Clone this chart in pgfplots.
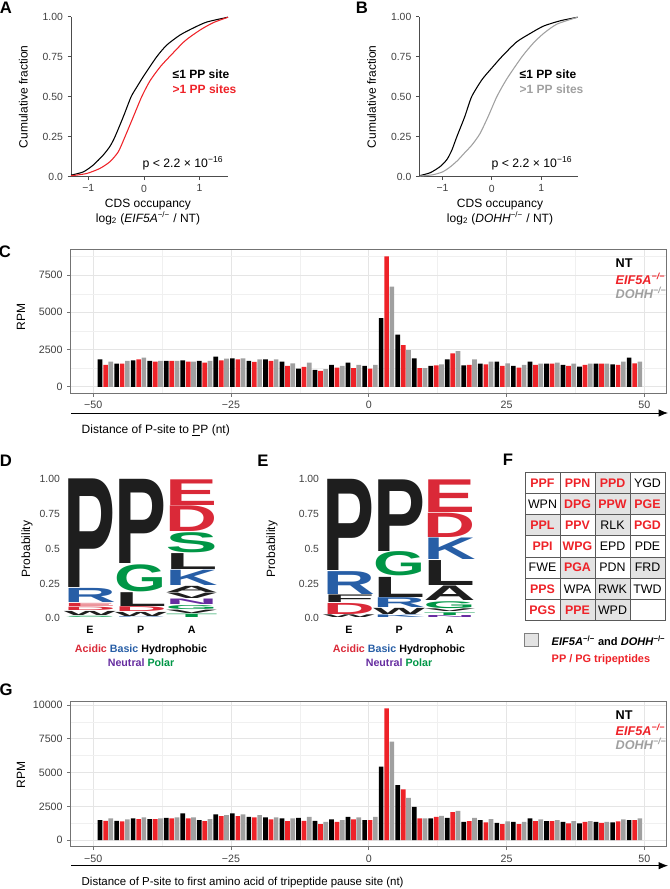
\documentclass[border=0pt]{standalone}
\usepackage{fontspec}
\setmainfont{Liberation Sans}
\usepackage{graphicx}
\usepackage{pgfplots}
\pgfplotsset{compat=1.18}
\usepackage{pgfplotstable}
\usetikzlibrary{arrows.meta}
\definecolor{lred}{RGB}{218,41,56}
\definecolor{lblue}{RGB}{39,94,166}
\definecolor{lgreen}{RGB}{0,150,70}
\definecolor{lpurple}{RGB}{102,45,160}
\definecolor{lblack}{RGB}{30,30,30}
\definecolor{myred}{RGB}{238,34,40}
\definecolor{mygray}{RGB}{160,160,160}
\newcommand{\fsz}[1]{\fontsize{#1}{#1}\selectfont}
\newcommand{\logoL}[5]{\node[anchor=south,inner sep=0pt,outer sep=0pt,text=#5,yshift=0.3pt] at (axis cs:#1,#2) {\pgfmathsetlengthmacro\hh{max((#3-#2)*104.5-0.6,0.25)}\resizebox*{39pt}{\hh}{\bfseries #4}};}

\pgfplotstableread{
pos nt ef do
-48 1842 1465 1686
-45 1553 1553 1731
-42 1775 1842 1953
-39 1731 1686 1731
-36 1731 1731 1731
-33 1775 1686 1686
-30 1731 1620 1731
-27 2019 1775 1886
-24 1908 1842 1908
-21 1731 1664 1842
-18 1842 1731 1842
-15 1686 1398 1575
-12 1220 1331 1620
-9 1132 1065 1176
-6 1465 1287 1398
-3 1620 1243 1465
0 1398 1220 1465
3 4615 8750 6724
6 3506 2796 2463
9 1908 1250 1250
12 1398 1442 1509
15 1842 2241 2397
18 1442 1465 1842
21 1553 1509 1686
24 1686 1398 1575
27 1398 1287 1465
30 1686 1465 1553
33 1553 1553 1620
36 1465 1398 1553
39 1354 1465 1553
42 1553 1553 1553
45 1509 1465 1686
48 1953 1575 1686
}\tabC

\pgfplotstableread{
pos nt ef do
-48 1481 1432 1605
-45 1432 1383 1531
-42 1605 1556 1679
-39 1556 1556 1605
-36 1654 1605 1679
-33 1975 1605 1679
-30 1481 1407 1556
-27 1901 1778 1852
-24 1975 1778 1901
-21 1728 1679 1852
-18 1679 1531 1679
-15 1605 1407 1605
-12 1654 1432 1728
-9 1432 1185 1358
-6 1531 1358 1481
-3 1728 1531 1679
0 1481 1481 1728
3 5432 9753 7284
6 4074 3753 3136
9 2469 1605 1605
12 1605 1728 1802
15 1654 2074 2173
18 1358 1407 1654
21 1481 1309 1556
24 1284 1185 1383
27 1358 1185 1358
30 1605 1407 1531
33 1407 1407 1481
36 1358 1235 1407
39 1235 1358 1407
42 1358 1284 1358
45 1309 1383 1531
48 1481 1481 1605
}\tabG

\pgfplotsset{
  cdfax/.style={anchor=south west, scale only axis, height=120pt, ymin=0, ymax=1,
    axis x line*=bottom, axis y line*=left,
    axis line style={black!70, line width=0.6pt},
    tick align=outside, major tick length=2.5pt, tick style={black!70, line width=0.6pt},
    xtick={-1,0,1}, xticklabels={−1,0,1},
    ytick={0,0.25,0.5,0.75,1}, yticklabels={0.0,0.25,0.50,0.75,1.00},
    ticklabel style={font=\fsz{7.8}, text=black!75}},
  barax/.style={anchor=south west, scale only axis, width=447.2pt,
    xmin=-54.1, xmax=54.1,
    xtick={-50,-25,0,25,50}, xticklabels={−50,−25,0,25,50},
    minor xtick={-37.5,-12.5,12.5,37.5},
    grid=both, major grid style={black!10, line width=0.5pt}, minor grid style={black!6, line width=0.3pt},
    axis line style={black!55, line width=0.7pt},
    tick align=outside, major tick length=2.5pt, minor tick length=0pt, tick style={black!55, line width=0.6pt},
    xtick pos=bottom, ytick pos=left, scaled y ticks=false,
    ticklabel style={font=\fsz{8}, text=black!75}},
  logoax/.style={anchor=south west, scale only axis, height=104.5pt,
    xmin=0.5, xmax=3.5, ymin=0, ymax=1, clip=false,
    axis line style={draw=none}, major tick length=0pt,
    xtick={1,2,3}, xticklabels={E,P,A},
    ytick={0,0.25,0.5,0.75,1}, yticklabels={0.0,0.25,0.5,0.75,1.00},
    xticklabel style={font=\bfseries\fsz{8}, yshift=-2pt},
    yticklabel style={font=\fsz{7.8}, text=black!75}},
}

\begin{document}
\begin{tikzpicture}
\useasboundingbox (0,0) rectangle (501.75pt,666.75pt);

% ---------- A ----------
\begin{axis}[cdfax, at={(53.25pt,534.2pt)}, width=117.75pt, xmin=-1.31, xmax=1.51]
\addplot[black, line width=0.8pt, smooth, tension=0.4] coordinates {(-1.31,0.01)(-1.09,0.03)(-0.91,0.073)(-0.73,0.136)(-0.61,0.19)(-0.52,0.25)(-0.37,0.375)(-0.23,0.5)(-0.12,0.565)(0,0.632)(0.23,0.75)(0.41,0.823)(0.65,0.886)(0.89,0.93)(1.13,0.967)(1.51,0.997)};
\addplot[myred, line width=0.8pt, smooth, tension=0.4] coordinates {(-1.31,0.006)(-1.03,0.02)(-0.79,0.052)(-0.61,0.094)(-0.46,0.156)(-0.34,0.25)(-0.19,0.375)(-0.04,0.5)(0.11,0.6)(0.3,0.69)(0.5,0.765)(0.74,0.85)(1.0,0.915)(1.24,0.962)(1.51,0.997)};
\end{axis}

% ---------- B ----------
\begin{axis}[cdfax, at={(314.5pt,534.2pt)}, width=118.8pt, xmin=-1.47, xmax=1.74]
\addplot[black, line width=0.8pt, smooth, tension=0.4] coordinates {(-1.47,0.006)(-1.25,0.025)(-1.05,0.063)(-0.91,0.108)(-0.81,0.167)(-0.71,0.25)(-0.55,0.375)(-0.41,0.5)(-0.2,0.607)(0,0.68)(0.2,0.75)(0.5,0.842)(0.78,0.896)(1.05,0.942)(1.39,0.975)(1.74,0.997)};
\addplot[mygray, line width=0.8pt, smooth, tension=0.4] coordinates {(-1.47,0.004)(-1.2,0.012)(-1.0,0.03)(-0.85,0.06)(-0.7,0.1)(-0.55,0.15)(-0.4,0.2)(-0.24,0.27)(-0.07,0.38)(0.1,0.5)(0.3,0.61)(0.61,0.75)(0.84,0.835)(1.05,0.896)(1.32,0.954)(1.74,0.997)};
\end{axis}

% ---------- C ----------
\begin{axis}[barax, at={(52.95pt,371.8pt)}, height=107.5pt, ymin=-437, ymax=9190,
  ytick={0,2500,5000,7500}, yticklabels={0,2500,5000,7500}, minor ytick={1250,3750,6250,8750}]
\addplot[ybar, bar width=0.85, bar shift=0pt, fill=black, draw=none] table[x expr=\thisrow{pos}-0.75, y=nt] {\tabC};
\addplot[ybar, bar width=0.85, bar shift=0pt, fill=myred, draw=none] table[x expr=\thisrow{pos}+0.25, y=ef] {\tabC};
\addplot[ybar, bar width=0.85, bar shift=0pt, fill=mygray, draw=none] table[x expr=\thisrow{pos}+1.2, y=do] {\tabC};
\end{axis}

% ---------- G ----------
\begin{axis}[barax, at={(52.95pt,31.7pt)}, height=108.75pt, ymin=-488, ymax=10244,
  ytick={0,2500,5000,7500,10000}, yticklabels={0,2500,5000,7500,10000}, minor ytick={1250,3750,6250,8750}]
\addplot[ybar, bar width=0.85, bar shift=0pt, fill=black, draw=none] table[x expr=\thisrow{pos}-0.75, y=nt] {\tabG};
\addplot[ybar, bar width=0.85, bar shift=0pt, fill=myred, draw=none] table[x expr=\thisrow{pos}+0.25, y=ef] {\tabG};
\addplot[ybar, bar width=0.85, bar shift=0pt, fill=mygray, draw=none] table[x expr=\thisrow{pos}+1.2, y=do] {\tabG};
\end{axis}

% ---------- D ----------
\begin{axis}[logoax, at={(48.4pt,203pt)}, width=114.4pt]
\addplot[draw=none] coordinates {(1,0)};
\logoL{1}{0}{0.015}{S}{lgreen}
\logoL{1}{0.015}{0.05}{W}{lblack}
\logoL{1}{0.05}{0.08}{D}{lred}
\logoL{1}{0.08}{0.108}{E}{lred}
\logoL{1}{0.108}{0.215}{R}{lblue}
\logoL{1}{0.215}{1}{P}{lblack}
\logoL{2}{0}{0.01}{R}{lblue}
\logoL{2}{0.01}{0.045}{W}{lblack}
\logoL{2}{0.045}{0.085}{D}{lred}
\logoL{2}{0.085}{0.19}{L}{lblack}
\logoL{2}{0.19}{0.39}{G}{lgreen}
\logoL{2}{0.39}{1}{P}{lblack}
\logoL{3}{0}{0.03}{T}{lgreen}
\logoL{3}{0.03}{0.06}{V}{lblack}
\logoL{3}{0.06}{0.095}{G}{lgreen}
\logoL{3}{0.095}{0.14}{N}{lpurple}
\logoL{3}{0.14}{0.185}{V}{lblack}
\logoL{3}{0.185}{0.235}{A}{lblack}
\logoL{3}{0.235}{0.35}{K}{lblue}
\logoL{3}{0.35}{0.47}{L}{lblack}
\logoL{3}{0.47}{0.62}{S}{lgreen}
\logoL{3}{0.62}{0.81}{D}{lred}
\logoL{3}{0.81}{1}{E}{lred}
\end{axis}

% ---------- E ----------
\begin{axis}[logoax, at={(242.8pt,203pt)}, width=113.2pt]
\addplot[draw=none] coordinates {(1,0)};
\logoL{1}{0}{0.025}{W}{lblack}
\logoL{1}{0.025}{0.11}{D}{lred}
\logoL{1}{0.11}{0.17}{F}{lblack}
\logoL{1}{0.17}{0.34}{R}{lblue}
\logoL{1}{0.34}{1}{P}{lblack}
\logoL{2}{0}{0.024}{K}{lblue}
\logoL{2}{0.024}{0.074}{W}{lblack}
\logoL{2}{0.074}{0.15}{R}{lblue}
\logoL{2}{0.15}{0.3}{L}{lblack}
\logoL{2}{0.3}{0.48}{G}{lgreen}
\logoL{2}{0.48}{1}{P}{lblack}
\logoL{3}{0}{0.02}{N}{lpurple}
\logoL{3}{0.02}{0.045}{T}{lgreen}
\logoL{3}{0.045}{0.07}{V}{lblack}
\logoL{3}{0.07}{0.125}{G}{lgreen}
\logoL{3}{0.125}{0.235}{A}{lblack}
\logoL{3}{0.235}{0.42}{L}{lblack}
\logoL{3}{0.42}{0.58}{K}{lblue}
\logoL{3}{0.58}{0.76}{D}{lred}
\logoL{3}{0.76}{1}{E}{lred}
\end{axis}

% ---------- text, in image pixel coordinates ----------
\begin{scope}[shift={(0pt,666.75pt)}, x=0.75pt, y=-0.75pt]
\tikzset{plab/.style={font=\bfseries\fsz{12.5}}}
\node[plab] at (6,8) {A};
\node[plab] at (362,8) {B};
\node[plab] at (5,252) {C};
\node[plab] at (6,461) {D};
\node[plab] at (263,461) {E};
\node[plab] at (508,460) {F};
\node[plab] at (6,690) {G};

% A
\node[rotate=90, font=\fsz{9}] at (23.3,96.7) {Cumulative fraction};
\node[font=\fsz{9}] at (148,205) {CDS occupancy};
\node[font=\fsz{9}] at (148,218.3) {log\textsubscript{2} (\textit{EIF5A}\textsuperscript{−/−} / NT)};
\node[anchor=west, font=\bfseries\fsz{9}] at (168,74) {≤1 PP site};
\node[anchor=west, font=\bfseries\fsz{9}, text=myred] at (168,89) {>1 PP sites};
\node[anchor=east, font=\fsz{9.2}] at (228,163) {p < 2.2 × 10\textsuperscript{−16}};
% B
\node[rotate=90, font=\fsz{9}] at (371.7,96.7) {Cumulative fraction};
\node[font=\fsz{9}] at (500,205) {CDS occupancy};
\node[font=\fsz{9}] at (500,218.3) {log\textsubscript{2} (\textit{DOHH}\textsuperscript{−/−} / NT)};
\node[anchor=west, font=\bfseries\fsz{9}] at (515,74) {≤1 PP site};
\node[anchor=west, font=\bfseries\fsz{9}, text=mygray] at (515,89) {>1 PP sites};
\node[anchor=east, font=\fsz{9.2}] at (577,163) {p < 2.2 × 10\textsuperscript{−16}};

% C
\node[rotate=90, font=\fsz{9}] at (21,317) {RPM};
\node[anchor=west, font=\bfseries\fsz{9.5}] at (611,263.3) {NT};
\node[anchor=west, font=\bfseries\itshape\fsz{9.5}, text=myred] at (611,279) {EIF5A\textsuperscript{−/−}};
\node[anchor=west, font=\bfseries\itshape\fsz{9.5}, text=mygray] at (611,293.3) {DOHH\textsuperscript{−/−}};
\draw[-{Latex[length=7pt,width=5.5pt]}, line width=0.6pt] (71,413) -- (668,413);
\node[anchor=west, font=\fsz{9}] at (77,430) {Distance of P-site to \underline{P}P (nt)};

% D, E
\node[rotate=90, font=\fsz{9}] at (27,549) {Probability};
\node[rotate=90, font=\fsz{9}] at (272,549) {Probability};
\node[font=\bfseries\fsz{8}] at (141,650) {\textcolor{lred}{Acidic} \textcolor{lblue}{Basic} Hydrophobic};
\node[font=\bfseries\fsz{8}] at (141,662.7) {\textcolor{lpurple}{Neutral} \textcolor{lgreen}{Polar}};
\node[font=\bfseries\fsz{8}] at (399,650) {\textcolor{lred}{Acidic} \textcolor{lblue}{Basic} Hydrophobic};
\node[font=\bfseries\fsz{8}] at (399,662.7) {\textcolor{lpurple}{Neutral} \textcolor{lgreen}{Polar}};

% F table
\foreach \r/\c in {1/3,2/2,2/3,2/4,3/1,3/3,5/2,5/4,6/3,7/2,7/3}
  \fill[black!11] ({525+35*(\c-1)},{472.3+21.2*(\r-1)}) rectangle ++(35,21.2);
\foreach \i in {0,...,4} \draw[black!65, line width=0.6pt] ({525+35*\i},472.3) -- ({525+35*\i},620.7);
\foreach \j in {0,...,7} \draw[black!65, line width=0.6pt] (525,{472.3+21.2*\j}) -- (665,{472.3+21.2*\j});
\tikzset{tr/.style={text=myred, font=\bfseries\fsz{9.3}}, tb/.style={text=black, font=\fsz{9.3}}}
\node[tr] at (542.5,482.9) {PPF};
\node[tr] at (577.5,482.9) {PPN};
\node[tr] at (612.5,482.9) {PPD};
\node[tb] at (647.5,482.9) {YGD};
\node[tb] at (542.5,504.1) {WPN};
\node[tr] at (577.5,504.1) {DPG};
\node[tr] at (612.5,504.1) {PPW};
\node[tr] at (647.5,504.1) {PGE};
\node[tr] at (542.5,525.3) {PPL};
\node[tr] at (577.5,525.3) {PPV};
\node[tb] at (612.5,525.3) {RLK};
\node[tr] at (647.5,525.3) {PGD};
\node[tr] at (542.5,546.5) {PPI};
\node[tr] at (577.5,546.5) {WPG};
\node[tb] at (612.5,546.5) {EPD};
\node[tb] at (647.5,546.5) {PDE};
\node[tb] at (542.5,567.7) {FWE};
\node[tr] at (577.5,567.7) {PGA};
\node[tb] at (612.5,567.7) {PDN};
\node[tb] at (647.5,567.7) {FRD};
\node[tr] at (542.5,588.9) {PPS};
\node[tb] at (577.5,588.9) {WPA};
\node[tb] at (612.5,588.9) {RWK};
\node[tb] at (647.5,588.9) {TWD};
\node[tr] at (542.5,610.1) {PGS};
\node[tr] at (577.5,610.1) {PPE};
\node[tb] at (612.5,610.1) {WPD};
\filldraw[fill=black!11, draw=black!50, line width=0.5pt] (524,633.3) rectangle (538.5,646.7);
\node[anchor=west, font=\bfseries\fsz{8.3}] at (547,640.7) {\textit{EIF5A}\textsuperscript{−/−} and \textit{DOHH}\textsuperscript{−/−}};
\node[anchor=west, font=\bfseries\fsz{8.2}, text=myred] at (547,660) {PP / PG tripeptides};

% G
\node[rotate=90, font=\fsz{9}] at (21,775) {RPM};
\node[anchor=west, font=\bfseries\fsz{9.5}] at (611,715) {NT};
\node[anchor=west, font=\bfseries\itshape\fsz{9.5}, text=myred] at (611,730) {EIF5A\textsuperscript{−/−}};
\node[anchor=west, font=\bfseries\itshape\fsz{9.5}, text=mygray] at (611,744.3) {DOHH\textsuperscript{−/−}};
\draw[-{Latex[length=7pt,width=5.5pt]}, line width=0.6pt] (71,865.7) -- (668,865.7);
\node[anchor=west, font=\fsz{8.6}] at (77,882.7) {Distance of P-site to first amino acid of tripeptide pause site (nt)};
\end{scope}
\end{tikzpicture}
\end{document}
